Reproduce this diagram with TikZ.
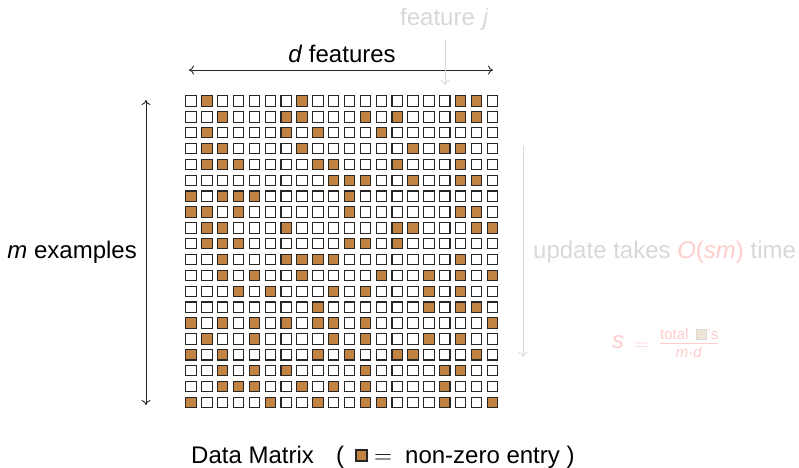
\documentclass[tikz,border=0pt]{standalone}
\usepackage{fontspec}
\setmainfont{Liberation Sans}
\usetikzlibrary{arrows.meta}
\definecolor{nzbrown}{RGB}{194,130,66}
\definecolor{fadegray}{RGB}{216,216,216}
\definecolor{fadepink}{RGB}{255,204,204}
\definecolor{fadebox}{RGB}{240,228,214}
\begin{document}
\begin{tikzpicture}[x=1pt,y=-1pt,
  >={Computer Modern Rightarrow[length=5pt,width=9pt]},
  lbl/.style={inner sep=0pt,font=\fontsize{24}{28}\selectfont},
  small/.style={inner sep=0pt,font=\fontsize{15}{17}\selectfont},
  cell/.style={draw=black!85,line width=1.1pt,minimum size=10.4pt,inner sep=0pt,fill=white},
  nzcell/.style={cell,fill=nzbrown},
  dimarrow/.style={line width=0.9pt,black!85,<->},
  fadearrow/.style={line width=0.9pt,fadegray,->}]
\useasboundingbox (0,0) rectangle (799,467);

% the data matrix: 20 x 20 cells
\def\pitch{15.86}
\foreach \r in {0,...,19}{
  \foreach \c in {0,...,19}{
    \node[cell] (c-\r-\c) at (191+\pitch*\c,101+\pitch*\r) {};
  }
}
% non-zero entries, listed row by row
\foreach \r/\cols in {
  0/{1,7,17,18},
  1/{2,6,7,11,13,17,18},
  2/{1,6,8,12},
  3/{1,2,7,14,16,17},
  4/{1,2,3,8,9,13,17},
  5/{9,10,11,14,17,18},
  6/{0,2,3,4,10},
  7/{0,1,3,10,17,18},
  8/{1,2,6,13,14,18,19},
  9/{1,2,3,10,11,13},
  10/{2,6,7,8,9,17},
  11/{2,4,7,12,15,17,19},
  12/{3,5,9,11,15,17},
  13/{8,15,17,18},
  14/{0,2,4,6,8,9,11,19},
  15/{1,4,9,11,15,17},
  16/{0,2,8,10,13,14,18},
  17/{2,4,6,11,16,17},
  18/{2,3,4,7,9,11,16},
  19/{0,5,8,11,12,16,19}}{
  \foreach \c in \cols{
    \node[nzcell] (nz-\r-\c) at (c-\r-\c) {};
  }
}

% dimension arrows
\coordinate (dL) at (189,70);
\coordinate (dR) at (493,70);
\draw[dimarrow] (dL) -- (dR);
\node[lbl,anchor=base] (dlab) at (342,62) {\textit{d} features};

\coordinate (mT) at (146,100);
\coordinate (mB) at (146,405);
\draw[dimarrow] (mT) -- (mB);
\node[lbl,anchor=base east] (mlab) at (137,258) {\textit{m} examples};

% faded annotations
\node[lbl,anchor=base west,text=fadegray] (fjlab) at (400,25) {feature\hspace{8pt}\textit{j}};
\coordinate (fjT) at (445,40);
\coordinate (fjB) at (445,85);
\draw[fadearrow] (fjT) -- (fjB);

\coordinate (upT) at (523,146);
\coordinate (upB) at (523,357);
\draw[fadearrow] (upT) -- (upB);
\node[lbl,anchor=base west,text=fadegray] (uplab) at (533,258)
  {update takes \textcolor{fadepink}{\textit{O}(\textit{sm})} time};

% sparsity formula
\node[lbl,anchor=base west,text=fadepink] (svar) at (612,348) {\textit{s}};
\node[inner sep=0pt,anchor=base,text=fadepink,font=\fontsize{20}{24}\selectfont] (seq) at (641,350) {$=$};
\node[small,anchor=base west,text=fadepink] (snum) at (660,339) {total};
\draw[line width=0.8pt,draw=black!15,fill=fadebox] (696.5,329.5) rectangle (706.5,339) coordinate (sbox);
\node[small,anchor=base west,text=fadepink] (snum2) at (707.5,339) {'s};
\coordinate (barL) at (660,343.5);
\coordinate (barR) at (718,343.5);
\draw[line width=0.8pt,fadepink] (barL) -- (barR);
\node[small,anchor=base,text=fadepink] (sden) at (689,357) {\textit{m}·\textit{d}};

% legend
\node[lbl,anchor=base west] (legtitle) at (191,463) {Data Matrix};
\node[lbl,anchor=base west] (legopen) at (336,463) {(};
\node[cell,fill=nzbrown,minimum size=11pt] (legbox) at (361.5,455.5) {};
\node[lbl,anchor=base] (legeq) at (383,463) {$=$};
\node[lbl,anchor=base west] (legtext) at (405,463) {non-zero entry )};
\end{tikzpicture}
\end{document}
